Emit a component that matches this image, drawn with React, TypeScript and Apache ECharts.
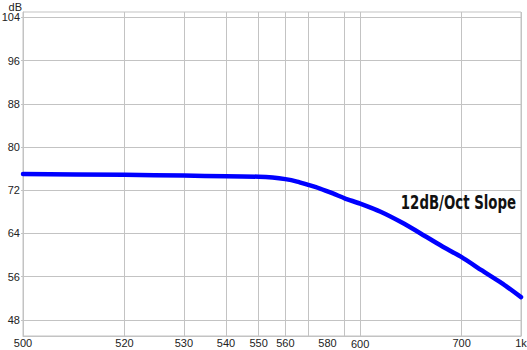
import React, { useEffect, useRef } from 'react';
import * as echarts from 'echarts';

// x values are positions on the chart's log frequency scale (decade 1..10, then 20, 30)
const gridValues = [1, 2, 3, 4, 5, 6, 7, 9, 10, 20, 30];
const labelValues = [1, 2, 3, 4, 5, 6, 8, 10, 20, 30];
const labelTexts = ['500', '520', '530', '540', '550', '560', '580', '600', '700', '1k'];
const yTicks = [48, 56, 64, 72, 80, 88, 96, 104];
const curveX = [1, 2, 3, 4, 5, 5.5, 6, 6.5, 7, 7.6, 8.3, 9, 10, 11.5, 13.3, 15.2, 17.4, 20, 22.9, 26.3, 30];
const curveDb = [75.0, 74.85, 74.7, 74.6, 74.5, 74.35, 74.05, 73.6, 73.0, 72.3, 71.4, 70.5, 69.5, 68.0, 66.0, 63.9, 61.7, 59.6, 57.2, 54.8, 52.2];
const annotation = '12dB/Oct Slope';

const GRID_COLOR = '#c3c3c3';
const TEXT_COLOR = '#222';
const FONT = "'Liberation Sans', Arial, sans-serif";

export default function App() {
  const ref = useRef<HTMLDivElement>(null);
  useEffect(() => {
    if (!ref.current) return;
    const chart = echarts.init(ref.current, null, { renderer: 'svg' });
    const fmtX = (v: number) => {
      const i = labelValues.findIndex((lv) => Math.abs(lv - v) < 1e-6 * Math.max(1, lv));
      if (i < 0) return '';
      const t = labelTexts[i];
      return t === '600' ? '{low|' + t + '}' : t;
    };
    chart.setOption({
      animation: false,
      backgroundColor: '#fff',
      grid: {
        left: 23,
        right: 6,
        top: 12,
        bottom: 14,
        show: true,
        borderColor: GRID_COLOR,
        borderWidth: 1,
        containLabel: false,
        outerBoundsMode: 'none',
      },
      xAxis: {
        type: 'log',
        logBase: 10,
        min: 1,
        max: 30,
        name: 'Hz',
        nameLocation: 'end',
        nameGap: 0,
        nameTextStyle: { color: TEXT_COLOR, fontSize: 11, fontFamily: FONT, align: 'left', verticalAlign: 'middle' },
        axisLine: { show: true, lineStyle: { color: GRID_COLOR, width: 1 } },
        axisTick: { show: false, customValues: gridValues },
        axisLabel: {
          customValues: labelValues,
          formatter: fmtX,
          color: TEXT_COLOR,
          fontSize: 11,
          fontFamily: FONT,
          margin: 1,
          hideOverlap: false,
          rich: { low: { fontSize: 11, fontFamily: FONT, color: TEXT_COLOR, padding: [1, 0, 0, 0] } },
        },
        splitLine: { show: true, lineStyle: { color: GRID_COLOR, width: 1 } },
        minorSplitLine: { show: false },
      },
      yAxis: {
        type: 'value',
        min: 45,
        max: 105,
        name: 'dB',
        nameLocation: 'end',
        nameGap: -2,
        nameTextStyle: { color: TEXT_COLOR, fontSize: 11, fontFamily: FONT, align: 'right', verticalAlign: 'bottom', padding: [0, 1, 0, 0] },
        axisLine: { show: true, lineStyle: { color: GRID_COLOR, width: 1 } },
        axisTick: { show: true, length: 2, customValues: yTicks, lineStyle: { color: GRID_COLOR } },
        axisLabel: { customValues: yTicks, color: TEXT_COLOR, fontSize: 11, fontFamily: FONT, margin: 3 },
        splitLine: { show: true, lineStyle: { color: GRID_COLOR, width: 1 } },
      },
      series: [
        {
          type: 'line',
          data: curveX.map((x, i) => [x, curveDb[i]]),
          showSymbol: false,
          smooth: 0.2,
          lineStyle: { color: '#0000ff', width: 4.5, cap: 'round', join: 'round' },
          z: 5,
        },
      ],
      graphic: [
        {
          type: 'text',
          x: 516,
          y: 202,
          scaleX: 0.78,
          z: 10,
          style: {
            text: annotation,
            fill: '#111',
            align: 'right',
            verticalAlign: 'middle',
            font: "bold 19px 'DejaVu Sans Condensed', 'DejaVu Sans', sans-serif",
          },
        },
      ],
    });
    return () => chart.dispose();
  }, []);
  return <div ref={ref} style={{ position: 'fixed', left: 0, top: 0, width: 527, height: 350 }} />;
}
